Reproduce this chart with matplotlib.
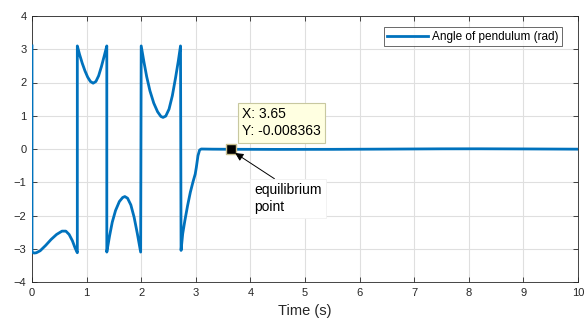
import matplotlib
matplotlib.use("Agg")
import matplotlib.pyplot as plt

plt.rcParams['font.family'] = ['Liberation Sans', 'DejaVu Sans']

# Time (s) and angle (rad)
time_s = [0.0, 0.0, 0.04, 0.08, 0.15, 0.25, 0.35, 0.45, 0.55, 0.62, 0.68, 0.74, 0.79, 0.83,
          0.83, 0.87, 0.92, 0.97, 1.02, 1.07, 1.12, 1.17, 1.22, 1.27, 1.32, 1.37,
          1.37, 1.42, 1.47, 1.53, 1.60, 1.66, 1.70, 1.75, 1.81, 1.87, 1.93, 1.99,
          2.00, 2.05, 2.10, 2.16, 2.23, 2.30, 2.36, 2.40, 2.45, 2.51, 2.57, 2.63, 2.68, 2.72,
          2.73, 2.76, 2.80, 2.85, 2.90, 2.95, 2.99, 3.01, 3.04, 3.07, 3.10,
          3.3, 3.65, 4.5, 5.5, 6.5, 7.5, 8.2, 9.0, 10.0]
angle_rad = [3.10, -3.10, -3.13, -3.12, -3.06, -2.90, -2.72, -2.57, -2.47, -2.47, -2.57, -2.76, -2.98, -3.12,
             3.10, 2.85, 2.58, 2.35, 2.16, 2.03, 1.98, 2.03, 2.20, 2.47, 2.78, 3.10,
             -3.10, -2.62, -2.20, -1.85, -1.58, -1.46, -1.43, -1.48, -1.68, -2.05, -2.55, -3.10,
             3.10, 2.62, 2.18, 1.75, 1.38, 1.12, 0.98, 0.95, 0.99, 1.20, 1.60, 2.15, 2.65, 3.10,
             -3.05, -2.55, -2.15, -1.70, -1.30, -0.98, -0.75, -0.55, -0.20, -0.03, 0.0,
             -0.005, -0.008363, -0.012, -0.010, -0.003, 0.005, 0.006, 0.002, -0.005]

tip_x = 3.65
tip_y = -0.008363

xticks = list(range(0, 11))
yticks = list(range(-4, 5))

fig = plt.figure(figsize=(5.87, 3.20), dpi=100)
ax = fig.add_axes([32/587, 1-282/320, (578-32)/587, (282-16)/320])

axc = '#262626'
ax.plot(time_s, angle_rad, color='#0072BD', lw=2.0, label='Angle of pendulum (rad)', zorder=3)
ax.set_xlim(0, 10)
ax.set_ylim(-4, 4)
ax.set_xticks(xticks)
ax.set_yticks(yticks)
ax.grid(True, color='#dfdfdf', lw=0.8)
ax.set_axisbelow(True)
ax.tick_params(direction='in', top=True, right=True, labelsize=8, colors=axc, length=3.5, width=0.6, pad=4)
for s in ax.spines.values():
    s.set_color(axc)
    s.set_linewidth(0.6)
ax.set_xlabel('Time (s)', fontsize=10.5, color=axc, labelpad=5)

leg = ax.legend(loc='upper right', fontsize=8.5, frameon=True, fancybox=False,
                edgecolor='#262626', handlelength=3.4, handletextpad=0.4, borderpad=0.3,
                bbox_to_anchor=(0.982, 0.98))
leg.get_frame().set_linewidth(0.6)

# data tip
ax.plot([tip_x], [tip_y], marker='s', ms=7, mfc='black', mec='#c8c090', mew=1, zorder=5)
ax.text(3.85, 0.79, 'X: 3.65\nY: -0.008363', fontsize=10, color='black', va='center', ha='left',
        linespacing=1.3,
        bbox=dict(boxstyle='square,pad=0.3', fc='#ffffe1', ec='#c8c8a0', lw=0.8), zorder=6)

ax.annotate('equilibrium\npoint', xy=(3.72, -0.12), xytext=(4.07, -1.49),
            fontsize=10, color='black', va='center', ha='left', linespacing=1.25,
            bbox=dict(boxstyle='square,pad=0.3', fc='white', ec='#f0f0f0', lw=0.6),
            arrowprops=dict(arrowstyle='-|>', color='black', lw=0.7, shrinkA=0, shrinkB=0,
                            mutation_scale=12, relpos=(0.4, 1.0)), zorder=6)

fig.savefig('out.png', dpi=100)
